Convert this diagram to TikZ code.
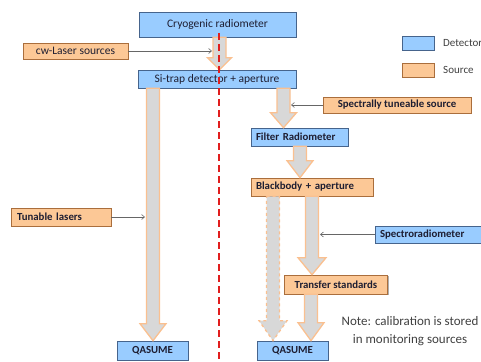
\documentclass[tikz,border=0pt]{standalone}
\usepackage{fontspec}
\setmainfont{Carlito}
\usetikzlibrary{calc,shadows,arrows.meta}
\definecolor{detfill}{RGB}{153,204,255}
\definecolor{detdraw}{RGB}{70,100,140}
\definecolor{srcfill}{RGB}{252,200,150}
\definecolor{srcdraw}{RGB}{170,110,60}
\definecolor{arrfill}{RGB}{216,216,216}
\definecolor{arrdraw}{RGB}{250,192,144}
\definecolor{redline}{RGB}{225,30,30}
\definecolor{txt}{RGB}{30,30,50}
\tikzset{
  boxbase/.style={draw, line width=0.6pt, inner sep=0pt, text=txt,
    drop shadow={shadow xshift=1.4pt, shadow yshift=-1.4pt, opacity=0.45, fill=black!70}},
  detbox/.style={boxbase, fill=detfill, draw=detdraw},
  srcbox/.style={boxbase, fill=srcfill, draw=srcdraw},
  lgbox/.style={draw, line width=0.6pt, minimum width=32pt, minimum height=14pt, inner sep=0pt},
  reg/.style={font=\fontsize{11.5}{13}\selectfont},
  bld/.style={font=\fontsize{10.8}{12}\selectfont\bfseries},
  fatarrow/.style={fill=arrfill, draw=arrdraw, line width=1.3pt, line join=miter},
  thin/.style={draw=black!60, line width=0.6pt, -{Straight Barb[length=3pt,width=5pt]}},
  legtext/.style={anchor=west, inner sep=0pt, font=\fontsize{11}{13}\selectfont, text=black!75},
}
% #1 extra style, #2 x centre, #3 from anchor, #4 to anchor, #5 head length, #6 head half width
\newcommand\fatarr[6][]{%
  \path[fatarrow,#1] let \p1=(#3), \p2=(#4) in
    ({#2pt-6.5pt},{\y1}) -- ({#2pt+6.5pt},{\y1}) -- ({#2pt+6.5pt},{\y2+#5pt})
    -- ({#2pt+#6pt},{\y2+#5pt}) -- ({#2pt},{\y2}) -- ({#2pt-#6pt},{\y2+#5pt})
    -- ({#2pt-6.5pt},{\y2+#5pt}) -- cycle;}
\begin{document}
\begin{tikzpicture}[x=1pt,y=-1pt]
\useasboundingbox (0,0) rectangle (481,361);
\clip (0,0) rectangle (481,361);

% nodes
\node[detbox, reg, minimum width=157pt, minimum height=25pt] (cryo) at (217.5,24.5) {Cryogenic radiometer};
\node[srcbox, reg, minimum width=105pt, minimum height=16pt] (cw) at (75.5,51) {cw-Laser sources};
\node[detbox, reg, minimum width=158pt, minimum height=18pt] (sitrap) at (217,79) {Si-trap detector + aperture};
\node[srcbox, bld, minimum width=148pt, minimum height=16pt] (spec) at (397,105) {Spectrally tuneable source};
\node[detbox, bld, text width=87pt, inner xsep=5pt, align=left, minimum height=18pt] (filter) at (299.5,137) {Filter Radiometer};
\node[srcbox, bld, text width=112pt, inner xsep=5pt, align=left, minimum height=18pt] (bb) at (312,187) {Blackbody + aperture};
\node[srcbox, bld, text width=88pt, inner xsep=6pt, align=left, minimum height=18pt] (tun) at (61,217) {Tunable lasers};
\node[detbox, bld, text width=97pt, inner xsep=5pt, align=left, minimum height=17pt] (spr) at (428.5,234.5) {Spectroradiometer};
\node[srcbox, bld, minimum width=103pt, minimum height=19pt] (trans) at (336,284.5) {Transfer standards};
\node[detbox, bld, minimum width=71pt, minimum height=19pt] (qasL) at (152.5,350.5) {QASUME};
\node[detbox, bld, minimum width=71pt, minimum height=19pt] (qasR) at (292.5,350.5) {QASUME};

% legend
\node[lgbox, fill=detfill, draw=detdraw] (lgdet) at (418,43) {};
\node[lgbox, fill=srcfill, draw=srcdraw] (lgsrc) at (418,70) {};
\node[legtext] (lgdett) at (443,43) {Detector};
\node[legtext] (lgsrct) at (443,70) {Source};

% note
\node[align=center, inner sep=0pt, font=\fontsize{13}{18}\selectfont, text=black!75] (note) at (410,331.5)
  {Note: calibration is stored\\in monitoring sources};

% fat arrows
\fatarr{219.5}{cryo.south}{sitrap.north}{12}{12}
\fatarr{283.5}{sitrap.south}{filter.north}{15}{13}
\fatarr{300}{filter.south}{bb.north}{17}{13}
\fatarr{153}{sitrap.south}{qasL.north}{17}{13}
\fatarr{312}{bb.south}{trans.north}{17}{14}
\fatarr[dashed]{273}{bb.south}{qasR.north}{20}{14}
\fatarr{311}{trans.south}{qasR.north}{18}{13}

% thin arrows
\coordinate (cwend) at (212,51);
\coordinate (specend) at (291,105);
\coordinate (tunend) at (145,217);
\coordinate (sprend) at (320,234.5);
\draw[thin] (cw.east) -- (cwend);
\draw[thin] (spec.west) -- (specend);
\draw[thin] (tun.east) -- (tunend);
\draw[thin] (spr.west) -- (sprend);

% red dashed line
\coordinate (rtop) at (219,33);
\coordinate (rbot) at (219,362);
\draw[redline, line width=2.2pt, dash pattern=on 7pt off 4pt] (rtop) -- (rbot);
\end{tikzpicture}
\end{document}
